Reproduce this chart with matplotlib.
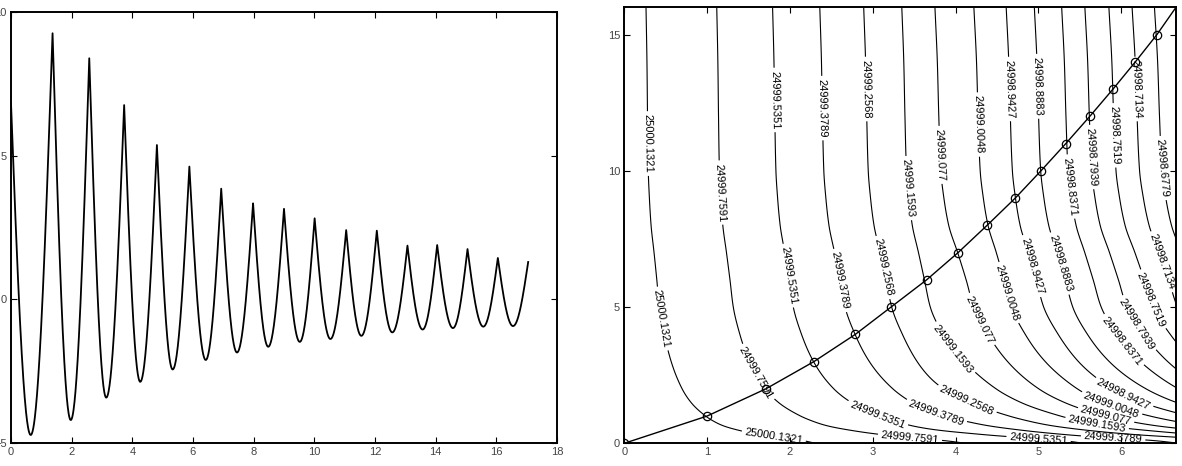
import numpy as np
import matplotlib
matplotlib.use('Agg')
import matplotlib.pyplot as plt

plt.rcParams['font.family'] = ['Liberation Sans', 'DejaVu Sans']

# ---------------- left panel data (extrema of the damped oscillation) ----------
peak_x = [0.0, 1.37, 2.58, 3.73, 4.81, 5.88, 6.93, 7.98, 9.00, 10.01, 11.05,
          12.06, 13.07, 14.05, 15.05, 16.05, 17.05]
peak_y = [6.83, 9.26, 8.39, 6.76, 5.37, 4.62, 3.85, 3.34, 3.15, 2.82, 2.41,
          2.39, 1.87, 1.89, 1.75, 1.44, 1.30]
trough_x = [0.65, 1.97, 3.14, 4.26, 5.33, 6.42, 7.45, 8.48, 9.52, 10.53, 11.55,
            12.57, 13.57, 14.57, 15.57, 16.55]
trough_y = [-4.72, -4.20, -3.42, -2.87, -2.44, -2.11, -1.85, -1.65, -1.48, -1.38,
            -1.27, -1.15, -1.05, -1.00, -0.95, -0.93]
left_xticks = [0, 2, 4, 6, 8, 10, 12, 14, 16, 18]
left_yticks = [-5, 0, 5, 10]

# ---------------- right panel data ---------------------------------------------
curve_y = [0, 1, 2, 3, 4, 5, 6, 7, 8, 9, 10, 11, 12, 13, 14, 15, 16]
curve_x = [0.0, 1.0, 1.71, 2.29, 2.79, 3.22, 3.65, 4.03, 4.38, 4.72, 5.03,
           5.33, 5.62, 5.90, 6.17, 6.43, 6.66]
level_labels = ['25000.1321', '24999.7591', '24999.5351', '24999.3789',
                '24999.2568', '24999.1593', '24999.077', '24999.0048',
                '24998.9427', '24998.8883', '24998.8371', '24998.7939',
                '24998.7519', '24998.7134', '24998.6779']
# x where each contour meets the top edge (y = 16)
level_top_x = [0.262, 1.116, 1.79, 2.36, 2.89, 3.35, 3.75, 4.22, 4.61, 4.95,
               5.28, 5.56, 5.85, 6.13, 6.40]
# extra value added towards the bottom edge, read along the right side / circles
g_y = [0.0, 0.1, 0.2, 0.3, 0.45, 0.65, 0.85, 1.0, 1.5, 2.0, 3.0, 4.0, 5.0,
       6.0, 7.0, 8.0, 9.0, 10.0, 12.0, 14.0, 16.0]
g_val = [0.74, 0.70, 0.63, 0.56, 0.48, 0.40, 0.35, 0.32, 0.245, 0.197, 0.137,
         0.099, 0.072, 0.058, 0.043, 0.027, 0.018, 0.012, 0.008, 0.005, 0.0]
right_xticks = [0, 1, 2, 3, 4, 5, 6]
right_yticks = [0, 5, 10, 15]


def pchip(xk, yk, x):
    xk = np.asarray(xk, float)
    yk = np.asarray(yk, float)
    x = np.asarray(x, float)
    h = np.diff(xk)
    d = np.diff(yk) / h
    m = np.zeros_like(yk)
    for i in range(1, len(xk) - 1):
        if d[i - 1] * d[i] > 0:
            w1 = 2 * h[i] + h[i - 1]
            w2 = h[i] + 2 * h[i - 1]
            m[i] = (w1 + w2) / (w1 / d[i - 1] + w2 / d[i])
    m[0] = d[0]
    m[-1] = d[-1]
    idx = np.clip(np.searchsorted(xk, x) - 1, 0, len(xk) - 2)
    hh = h[idx]
    t = (x - xk[idx]) / hh
    tc = np.clip(t, 0, 1)
    h00 = 2 * tc**3 - 3 * tc**2 + 1
    h10 = tc**3 - 2 * tc**2 + tc
    h01 = -2 * tc**3 + 3 * tc**2
    h11 = tc**3 - tc**2
    y = h00 * yk[idx] + h10 * hh * m[idx] + h01 * yk[idx + 1] + h11 * hh * m[idx + 1]
    lo = x < xk[0]
    hi = x > xk[-1]
    y[lo] = yk[0] + m[0] * (x[lo] - xk[0])
    y[hi] = yk[-1] + m[-1] * (x[hi] - xk[-1])
    return y


fig = plt.figure(figsize=(11.82, 4.66), dpi=100)
ax1 = fig.add_axes([11 / 1182, 23 / 466, 546 / 1182, 431 / 466])
ax2 = fig.add_axes([624.3 / 1182, 22.7 / 466, 551.7 / 1182, 436 / 466])

# ---- left: oscillation drawn from its extrema (cusped peaks, rounded troughs)
ext_x = []
ext_y = []
for i in range(len(peak_x)):
    ext_x.append(peak_x[i]); ext_y.append(peak_y[i])
    if i < len(trough_x):
        ext_x.append(trough_x[i]); ext_y.append(trough_y[i])
xs, ys = [], []
for i in range(len(ext_x) - 1):
    x0, y0, x1, y1 = ext_x[i], ext_y[i], ext_x[i + 1], ext_y[i + 1]
    t = np.linspace(0, 1, 60)
    xx = x0 + (x1 - x0) * t
    if i % 2 == 0:  # peak -> trough
        yy = y0 - (y0 - y1) * np.sin(np.pi / 2 * t)
    else:           # trough -> peak
        yy = y0 + (y1 - y0) * (1 - np.cos(np.pi / 2 * t))
    xs.append(xx); ys.append(yy)
ax1.plot(np.concatenate(xs), np.concatenate(ys), color='k', lw=1.3)
ax1.set_xlim(0, 18)
ax1.set_ylim(-5, 10)
ax1.set_xticks(left_xticks)
ax1.set_yticks(left_yticks)

# ---- right: contour field
levels = [float(s) for s in level_labels]
xg = np.linspace(0, 6.66, 500)
yg = np.linspace(0, 16, 700)
order = np.argsort(level_top_x)
F = pchip(np.array(level_top_x)[order], np.array(levels)[order], xg)
G = pchip(g_y, g_val, yg)
Z = F[None, :] + G[:, None]
lev_sorted = sorted(levels)
cs = ax2.contour(xg, yg, Z, levels=lev_sorted, colors='k', linewidths=0.8)
fmt = {lv: s for lv, s in zip(levels, level_labels)}
manual = [(0.28, 11.0), (0.5, 4.6), (1.8, 0.15),
          (1.15, 9.2), (1.72, 2.8), (3.45, 0.25),
          (1.8, 12.6), (2.08, 6.2), (3.05, 1.0), (5.0, 0.1),
          (2.38, 12.3), (2.65, 6.0), (3.75, 1.0), (5.9, 0.15),
          (2.89, 13.0), (3.2, 6.5), (4.1, 1.35),
          (3.55, 9.4), (3.9, 3.3), (5.7, 0.6),
          (3.95, 10.6), (4.15, 4.3), (5.8, 0.85),
          (4.3, 11.7), (4.47, 5.4), (5.85, 1.15),
          (4.63, 13.0), (4.8, 6.4), (5.97, 1.45),
          (4.98, 13.1), (5.15, 6.5),
          (5.33, 9.4), (5.9, 3.5),
          (5.62, 10.5), (6.1, 4.2),
          (5.9, 11.3), (6.3, 5.2),
          (6.16, 13.0), (6.43, 6.6),
          (6.5, 10.1)]
ax2.clabel(cs, levels=lev_sorted, fmt=fmt, manual=manual, fontsize=8,
           inline=True, inline_spacing=3, colors='k')
ax2.plot(curve_x, curve_y, color='k', lw=1.0, zorder=5)
ax2.plot(curve_x[:-1], curve_y[:-1], 'o', mfc='none', mec='k', ms=6, mew=0.9, zorder=6)
ax2.set_xlim(0, 6.66)
ax2.set_ylim(0, 16)
ax2.set_xticks(right_xticks)
ax2.set_yticks(right_yticks)

for ax in (ax1, ax2):
    for sp in ax.spines.values():
        sp.set_linewidth(1.4)
    ax.tick_params(direction='in', length=4, width=0.8, top=True, right=True,
                   labelsize=8, labelcolor='#444444', pad=3)

fig.savefig('out.png', dpi=100)
